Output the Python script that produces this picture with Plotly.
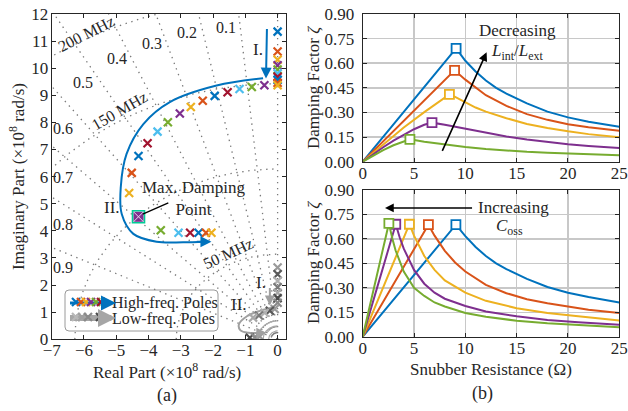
import numpy as np
import plotly.graph_objects as go

W, H = 628, 411
FONT = "Liberation Serif"
TXT = "#262626"
PAL = ["#0072BD", "#D95319", "#EDB120", "#7E2F8E", "#77AC30", "#4DBEEE", "#A2142F"]

# ---------------- (a) pole map ----------------
hf_re = [0, 0, 0, 0, 0, 0, 0, 0, 0, 0,
         -0.41, -0.80, -1.18, -1.55, -1.95, -2.32, -2.69, -3.03, -3.40, -3.72,
         -4.03, -4.31, -4.52, -4.60, -4.31,
         -3.62, -3.07, -2.71, -2.45, -2.22, -2.05]
hf_im = [11.35, 10.62, 10.31, 10.11, 9.95, 9.81, 9.68, 9.57, 9.46, 9.37,
         9.37, 9.31, 9.23, 9.11, 8.98, 8.80, 8.57, 8.33, 8.01, 7.66,
         7.23, 6.76, 6.14, 5.40, 4.52,
         4.02, 3.93, 3.93, 3.93, 3.93, 3.93]
max_damp_index = 24

lf_re = [0, 0, 0, 0, 0, 0, 0, -0.09, -0.24, -0.40, -0.58, -0.76, -0.86, -0.70, -0.55]
lf_im = [2.65, 2.40, 2.15, 1.92, 1.72, 1.52, 1.35, 1.12, 1.05, 0.98, 0.88, 0.80, 0.06, 0.08, 0.10]
lf_gray = ["#9a9a9a", "#5a5a5a", "#b0b0b0", "#7a7a7a", "#a8a8a8", "#4a4a4a", "#8a8a8a"]

zeta_vals = [0.1, 0.2, 0.3, 0.4, 0.5, 0.6, 0.7, 0.8, 0.9]
zeta_lab_x = [-1.60, -2.82, -3.90, -4.99, -6.02, -6.64, -6.64, -6.64, -6.64]
zeta_lab_y = [11.51, 11.30, 10.90, 10.37, 9.48, 7.76, 5.98, 4.23, 2.66]
freq_mhz = [50, 100, 150, 200]
freq_lab = ["50 MHz", "150 MHz", "200 MHz"]
freq_lab_x = [-1.53, -4.89, -5.92]
freq_lab_y = [3.15, 8.44, 11.27]
freq_lab_ang = [-25, -30, -27]

# trajectory arrows
arrII_x = [-0.45, -1.89, -3.34, -4.16, -4.68, -4.86, -4.83, -4.47, -3.75, -2.93, -2.25]
arrII_y = [9.63, 9.36, 8.75, 7.94, 6.84, 5.61, 4.62, 3.89, 3.60, 3.58, 3.60]
lfII_x = [-0.12, -0.55, -0.95, -1.20, -1.15, -0.90, -0.60]
lfII_y = [1.18, 1.05, 0.85, 0.55, 0.33, 0.24, 0.24]

# ---------------- (b) damping factor ----------------
top = {
    "blue":   ([0, 4.5, 9.1, 10, 11, 12, 13, 14, 16, 18, 20, 22, 25],
               [0, 0.342, 0.691, 0.615, 0.55, 0.495, 0.45, 0.415, 0.355, 0.305, 0.27, 0.243, 0.213]),
    "orange": ([0, 2, 4, 6, 8, 8.95, 10, 11, 12, 14, 16, 18, 20, 22, 25],
               [0, 0.125, 0.25, 0.372, 0.497, 0.557, 0.50, 0.45, 0.405, 0.34, 0.29, 0.255, 0.228, 0.21, 0.189]),
    "yellow": ([0, 2, 4, 6, 7.5, 8.45, 9, 10, 11, 12, 14, 16, 18, 20, 22, 25],
               [0, 0.105, 0.208, 0.302, 0.37, 0.41, 0.395, 0.36, 0.33, 0.305, 0.265, 0.23, 0.205, 0.185, 0.168, 0.149]),
    "purple": ([0, 1, 2, 3, 4, 5, 6, 6.75, 8, 10, 12, 14, 16, 18, 20, 22, 25],
               [0, 0.045, 0.088, 0.128, 0.165, 0.198, 0.225, 0.238, 0.225, 0.2, 0.175, 0.153, 0.135, 0.12, 0.107, 0.096, 0.083]),
    "green":  ([0, 1, 2, 3, 4, 4.6, 6, 8, 10, 12, 14, 16, 18, 20, 22, 25],
               [0, 0.036, 0.07, 0.1, 0.125, 0.136, 0.122, 0.104, 0.09, 0.078, 0.068, 0.06, 0.054, 0.049, 0.044, 0.039]),
}
bot = {
    "blue":   ([0, 9.08, 10, 11, 12, 13, 14, 16, 18, 20, 22, 25],
               [0, 0.687, 0.617, 0.55, 0.495, 0.45, 0.415, 0.355, 0.305, 0.27, 0.243, 0.21]),
    "orange": ([0, 6.4, 7, 8, 9, 10, 12, 14, 16, 18, 20, 22, 25],
               [0, 0.687, 0.62, 0.527, 0.455, 0.40, 0.318, 0.267, 0.23, 0.205, 0.185, 0.166, 0.145]),
    "yellow": ([0, 4.55, 5, 6, 7, 8, 10, 12, 15, 18, 21, 25],
               [0, 0.69, 0.62, 0.495, 0.41, 0.345, 0.27, 0.22, 0.175, 0.145, 0.125, 0.10]),
    "purple": ([0, 3.22, 3.6, 4, 5, 6, 7, 8, 10, 12, 15, 18, 21, 25],
               [0, 0.69, 0.61, 0.54, 0.41, 0.325, 0.27, 0.233, 0.188, 0.155, 0.125, 0.102, 0.089, 0.073]),
    "green":  ([0, 2.55, 2.9, 3.2, 4, 5, 6, 7, 8, 10, 12, 15, 18, 21, 25],
               [0, 0.695, 0.60, 0.53, 0.40, 0.30, 0.25, 0.21, 0.185, 0.145, 0.122, 0.098, 0.082, 0.070, 0.058]),
}
series_color = {"blue": PAL[0], "orange": PAL[1], "yellow": PAL[2], "purple": PAL[3], "green": PAL[4]}

zeta_ticks = [0, 0.15, 0.30, 0.45, 0.60, 0.75, 0.90]
R_ticks = [0, 5, 10, 15, 20, 25]

fig = go.Figure()

# ---- sgrid (dotted) ----
GRID = "#7a7a7a"
DOT = "1.4px,4.6px"
for z in [0.0] + zeta_vals:
    fig.add_trace(go.Scatter(x=[0, -20 * z], y=[0, 20 * np.sqrt(1 - z * z)], mode="lines",
                             line=dict(color=GRID, width=1.3, dash=DOT), xaxis="x", yaxis="y", hoverinfo="skip"))
t = np.linspace(0, np.pi / 2, 120)
for f in freq_mhz:
    r = 2 * np.pi * f * 1e6 / 1e8
    fig.add_trace(go.Scatter(x=-r * np.cos(t), y=r * np.sin(t), mode="lines",
                             line=dict(color=GRID, width=1.3, dash=DOT), xaxis="x", yaxis="y", hoverinfo="skip"))
for r in [0.28, 0.45, 0.62]:
    fig.add_trace(go.Scatter(x=-r * np.cos(t), y=r * np.sin(t) * 1.1, mode="lines",
                             line=dict(color="#a8a8a8", width=1.2), xaxis="x", yaxis="y", hoverinfo="skip"))

# low-frequency trajectory arrow II (gray)
fig.add_trace(go.Scatter(x=lfII_x, y=lfII_y, mode="lines", line=dict(color="#a0a0a0", width=2, shape="spline"),
                         xaxis="x", yaxis="y", hoverinfo="skip"))
# low-frequency poles
fig.add_trace(go.Scatter(x=lf_re, y=lf_im, mode="markers", xaxis="x", yaxis="y",
                         marker=dict(symbol="x-thin", size=8,
                                     line=dict(width=2.2, color=[lf_gray[i % len(lf_gray)] for i in range(len(lf_re))]))))

# high-frequency trajectory arrow II (blue)
fig.add_trace(go.Scatter(x=arrII_x, y=arrII_y, mode="lines", line=dict(color=PAL[0], width=2, shape="spline"),
                         xaxis="x", yaxis="y", hoverinfo="skip"))
# high-frequency poles
fig.add_trace(go.Scatter(x=hf_re, y=hf_im, mode="markers", xaxis="x", yaxis="y",
                         marker=dict(symbol="x-thin", size=8,
                                     line=dict(width=2.2, color=[PAL[i % 7] for i in range(len(hf_re))]))))
fig.add_trace(go.Scatter(x=[hf_re[max_damp_index]], y=[hf_im[max_damp_index]], mode="markers", xaxis="x", yaxis="y",
                         marker=dict(symbol="square-x", size=11, color=PAL[3], line=dict(width=1, color="#e8d8ee"))))
fig.add_trace(go.Scatter(x=[hf_re[max_damp_index]], y=[hf_im[max_damp_index]], mode="markers", xaxis="x", yaxis="y",
                         marker=dict(symbol="square-open", size=12, line=dict(width=1.6, color=PAL[3]))))

# ---- (b) curves ----
for dct, xa, ya in [(top, "x2", "y2"), (bot, "x3", "y3")]:
    for name, (R, zz) in dct.items():
        col = series_color[name]
        fig.add_trace(go.Scatter(x=R, y=zz, mode="lines", line=dict(color=col, width=2),
                                 xaxis=xa, yaxis=ya, hoverinfo="skip"))
        k = int(np.argmax(zz))
        fig.add_trace(go.Scatter(x=[R[k]], y=[zz[k]], mode="markers", xaxis=xa, yaxis=ya,
                                 marker=dict(symbol="square", size=9, color="white",
                                             line=dict(width=1.8, color=col))))

# ---- pixel overlay for legend icons ----
def lg_markers(xs, y, cols):
    fig.add_trace(go.Scatter(x=xs, y=[y] * len(xs), mode="markers", xaxis="x4", yaxis="y4",
                             marker=dict(symbol="x-thin", size=8, line=dict(width=2.2, color=cols))))

fig.add_trace(go.Scatter(x=[70, 104], y=[303, 303], mode="lines", line=dict(color=PAL[0], width=3),
                         xaxis="x4", yaxis="y4"))
fig.add_trace(go.Scatter(x=[70, 104], y=[318, 318], mode="lines", line=dict(color="#a6a6a6", width=6),
                         xaxis="x4", yaxis="y4"))
lg_markers([76, 81, 86, 91, 96, 101], 302, [PAL[0], PAL[1], PAL[2], PAL[3], PAL[4], PAL[6]])
lg_markers([76, 82, 88, 100], 317, ["#b8b8b8", "#a0a0a0", "#8a8a8a", "#4a4a4a"])

ax_common = dict(showline=True, linecolor=TXT, linewidth=1, mirror="ticks", ticks="inside", ticklen=4,
                 tickcolor=TXT, tickfont=dict(family=FONT, size=17, color=TXT), zeroline=False, automargin=False)

def dom_x(a, b):
    return [a / W, b / W]

def dom_y(top_px, bot_px):
    return [1 - bot_px / H, 1 - top_px / H]

fig.update_layout(
    width=W, height=H, margin=dict(l=0, r=0, t=0, b=0, pad=0, autoexpand=False),
    paper_bgcolor="white", plot_bgcolor="rgba(0,0,0,0)", showlegend=False,
    font=dict(family=FONT, size=17, color=TXT),
    xaxis=dict(domain=dom_x(51.7, 286), range=[-7, 0.26], dtick=1, showgrid=False, anchor="y",
               ticklabelstandoff=-5, **ax_common),
    yaxis=dict(domain=dom_y(14, 339.3), range=[0, 12], dtick=1, showgrid=False, anchor="x",
               ticklabelstandoff=-1, **ax_common),
    xaxis2=dict(domain=dom_x(362.7, 619.3), range=[0, 25], tickvals=R_ticks, showgrid=True,
                gridcolor="#c8c8c8", gridwidth=1.5, anchor="y2", ticklabelstandoff=-4, **ax_common),
    yaxis2=dict(domain=dom_y(14, 161.7), range=[0, 0.9], tickvals=zeta_ticks, tickformat=".2f", showgrid=True,
                gridcolor="#c8c8c8", gridwidth=1.5, anchor="x2", ticklabelstandoff=4, **ax_common),
    xaxis3=dict(domain=dom_x(362.7, 619.3), range=[0, 25], tickvals=R_ticks, showgrid=True,
                gridcolor="#c8c8c8", gridwidth=1.5, anchor="y3", ticklabelstandoff=-4, **ax_common),
    yaxis3=dict(domain=dom_y(190, 336.7), range=[0, 0.9], tickvals=zeta_ticks, tickformat=".2f", showgrid=True,
                gridcolor="#c8c8c8", gridwidth=1.5, anchor="x3", ticklabelstandoff=4, **ax_common),
    xaxis4=dict(domain=[0, 1], range=[0, W], visible=False, anchor="y4", automargin=False),
    yaxis4=dict(domain=[0, 1], range=[H, 0], visible=False, anchor="x4", automargin=False),
)

ann = []
def A(**kw):
    base = dict(showarrow=False, xanchor="center", yanchor="middle", font=dict(family=FONT, size=17, color=TXT))
    base.update(kw)
    ann.append(base)

# damping/frequency labels
for z, lx, ly in zip(zeta_vals, zeta_lab_x, zeta_lab_y):
    A(x=lx, y=ly, xref="x", yref="y", text=f"{z:.1f}", font=dict(family=FONT, size=16, color=TXT))
for s, lx, ly, ang in zip(freq_lab, freq_lab_x, freq_lab_y, freq_lab_ang):
    A(x=lx, y=ly, xref="x", yref="y", text=s, textangle=ang, font=dict(family=FONT, size=16, color=TXT))

# arrows (a)
A(x=-0.36, y=9.62, ax=-0.33, ay=11.5, xref="x", yref="y", axref="x", ayref="y", text="", showarrow=True,
  arrowhead=2, arrowsize=1.1, arrowwidth=2, arrowcolor=PAL[0])
A(x=arrII_x[-1] + 0.2, y=3.60, ax=arrII_x[-1] - 0.3, ay=3.60, xref="x", yref="y", axref="x", ayref="y", text="",
  showarrow=True, arrowhead=2, arrowsize=1.1, arrowwidth=2, arrowcolor=PAL[0])
A(x=-0.24, y=1.25, ax=-0.24, ay=1.95, xref="x", yref="y", axref="x", ayref="y", text="", showarrow=True,
  arrowhead=2, arrowsize=1.0, arrowwidth=2, arrowcolor="#a0a0a0")
A(x=-0.35, y=0.24, ax=-0.65, ay=0.24, xref="x", yref="y", axref="x", ayref="y", text="", showarrow=True,
  arrowhead=2, arrowsize=1.0, arrowwidth=2, arrowcolor="#a0a0a0")
A(x=-0.62, y=10.7, xref="x", yref="y", text="I.")
A(x=-5.12, y=4.85, xref="x", yref="y", text="II.")
A(x=-0.5, y=2.08, xref="x", yref="y", text="I.")
A(x=-1.2, y=1.27, xref="x", yref="y", text="II.")
A(x=-2.62, y=5.18, xref="x", yref="y", text="Max. Damping<br>Point", align="center")
A(x=-4.18, y=4.62, ax=-3.34, ay=5.06, xref="x", yref="y", axref="x", ayref="y", text="", showarrow=True,
  arrowhead=0, arrowwidth=1.3, arrowcolor="black")

# legend text + arrowheads
LGF = dict(family=FONT, size=16, color=TXT)
A(x=110, y=303, xref="x4", yref="y4", text="High-freq. Poles", xanchor="left", font=LGF)
A(x=110, y=319, xref="x4", yref="y4", text="Low-freq. Poles", xanchor="left", font=LGF)
A(x=116, y=303, ax=104, ay=303, xref="x4", yref="y4", axref="x4", ayref="y4",
  text="", showarrow=True, arrowhead=2, arrowsize=1.0, arrowwidth=3, arrowcolor=PAL[0])
A(x=116, y=318, ax=104, ay=318, xref="x4", yref="y4", axref="x4", ayref="y4",
  text="", showarrow=True, arrowhead=2, arrowsize=0.6, arrowwidth=6, arrowcolor="#a6a6a6")

# (b) annotations
A(x=12.07, y=0.667, ax=7.69, ay=0.057, xref="x2", yref="y2", axref="x2", ayref="y2", text="", showarrow=True,
  arrowhead=2, arrowsize=1.1, arrowwidth=1.6, arrowcolor="black")
A(x=15.1, y=0.80, xref="x2", yref="y2", text="Decreasing")
A(x=15.0, y=0.67, xref="x2", yref="y2", text="<i>L</i><sub>int</sub>/<i>L</i><sub>ext</sub>")
A(x=2.17, y=0.79, ax=10.8, ay=0.79, xref="x3", yref="y3", axref="x3", ayref="y3", text="", showarrow=True,
  arrowhead=2, arrowsize=1.1, arrowwidth=1.6, arrowcolor="black")
A(x=11.0, y=0.79, xref="x3", yref="y3", text="Increasing", xanchor="left")
A(x=14.3, y=0.675, xref="x3", yref="y3", text="<i>C</i><sub>oss</sub>")

# axis titles and panel labels (pixel coordinates on overlay axis)
A(x=17, y=177, xref="x4", yref="y4", text="Imaginary Part (×10<sup>8</sup> rad/s)", textangle=-90)
A(x=167, y=371, xref="x4", yref="y4", text="Real Part (×10<sup>8</sup> rad/s)")
A(x=313, y=88, xref="x4", yref="y4", text="Damping Factor <i>ζ</i>", textangle=-90)
A(x=313, y=263, xref="x4", yref="y4", text="Damping Factor <i>ζ</i>", textangle=-90)
A(x=491, y=369, xref="x4", yref="y4", text="Snubber Resistance (Ω)")
A(x=167, y=395, xref="x4", yref="y4", text="(a)", font=dict(family=FONT, size=18, color=TXT))
A(x=482, y=393, xref="x4", yref="y4", text="(b)", font=dict(family=FONT, size=18, color=TXT))
fig.update_layout(annotations=ann)

# legend frame (rounded)
x0, x1, y0, y1, rr = 65 / W, 218 / W, 1 - 331 / H, 1 - 290 / H, 4
rx, ry = rr / W, rr / H
path = (f"M {x0+rx},{y0} L {x1-rx},{y0} Q {x1},{y0} {x1},{y0+ry} L {x1},{y1-ry} Q {x1},{y1} {x1-rx},{y1} "
        f"L {x0+rx},{y1} Q {x0},{y1} {x0},{y1-ry} L {x0},{y0+ry} Q {x0},{y0} {x0+rx},{y0} Z")
fig.add_shape(type="path", path=path, xref="paper", yref="paper", line=dict(color="#9a9a9a", width=1),
              fillcolor="rgba(255,255,255,0.95)", layer="below")

fig.write_html("out.html", config={"displayModeBar": False, "staticPlot": True},
               post_script="document.body.style.margin='0px';document.body.style.overflow='hidden';")
